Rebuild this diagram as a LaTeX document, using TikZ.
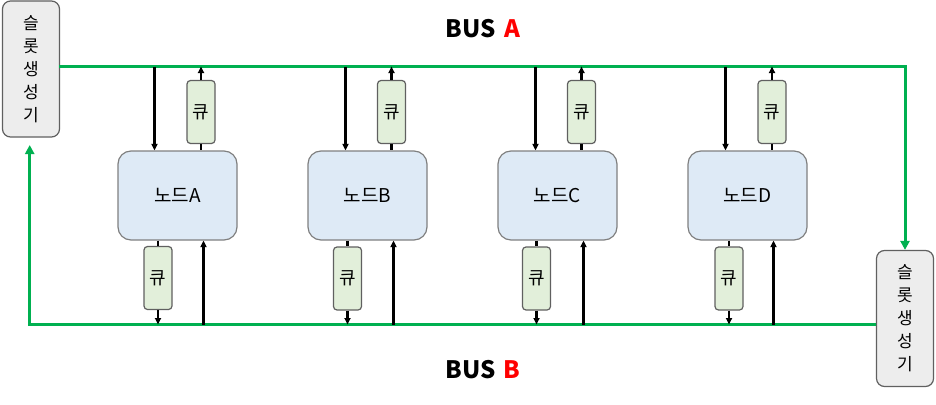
\documentclass[tikz,border=0pt]{standalone}
\usepackage{fontspec}
\setmainfont{Noto Sans CJK KR}
\usetikzlibrary{arrows.meta}

\definecolor{busgreen}{RGB}{0,176,80}
\definecolor{nodefill}{RGB}{222,234,246}
\definecolor{queuefill}{RGB}{226,239,218}
\definecolor{genfill}{RGB}{237,237,237}
\definecolor{edgegray}{RGB}{96,96,96}

\tikzset{
  slotgen/.style={draw=edgegray, fill=genfill, line width=1.2pt, rounded corners=8pt,
    minimum width=57pt, minimum height=136pt, align=center, inner sep=0pt,
    font=\fontsize{17}{23}\selectfont},
  nodebox/.style={draw=edgegray!80, fill=nodefill, line width=1.2pt, rounded corners=13pt,
    minimum width=119pt, minimum height=89pt, inner sep=0pt, font=\fontsize{19}{19}\selectfont},
  queue/.style={draw=edgegray, fill=queuefill, line width=1.2pt, rounded corners=3.5pt,
    minimum width=28pt, minimum height=63pt, inner sep=0pt, font=\fontsize{18}{18}\selectfont},
  bus/.style={draw=busgreen, line width=3pt, -{Triangle[length=9pt,width=9pt]}},
  link/.style={line width=2.2pt, -{Triangle[length=6.5pt,width=6pt]}},
  buslabel/.style={font=\fontsize{24}{24}\selectfont\bfseries}
}

\begin{document}
\begin{tikzpicture}[x=1pt,y=-1pt]
\useasboundingbox (0,0) rectangle (936,404);

\node[slotgen] (gen1) at (31,69) {슬\\롯\\생\\성\\기};
\node[slotgen] (gen2) at (905,318.5) {슬\\롯\\생\\성\\기};

\node[buslabel] (labelA) at (483,29) {BUS\hspace{3pt} \textcolor{red}{A}};
\node[buslabel] (labelB) at (483,370) {BUS\hspace{3pt} \textcolor{red}{B}};

\coordinate (busA) at (59,66.5);
\coordinate (busB) at (876,324.5);
\coordinate (genin) at (29.7,145);

\draw[bus] (busA) -| (gen2.north);
\draw[bus] (busB) -| (genin);

\node[nodebox] (nA) at (177.5,195.5) {노드A};
\node[nodebox] (nB) at (367.5,195.5) {노드B};
\node[nodebox] (nC) at (557.5,195.5) {노드C};
\node[nodebox] (nD) at (747.5,195.5) {노드D};

\node[queue] (qA1) at (201,112) {큐};
\node[queue] (qA2) at (158,278) {큐};
\node[queue] (qB1) at (391.5,112) {큐};
\node[queue] (qB2) at (347.5,278.5) {큐};
\node[queue] (qC1) at (581.5,112) {큐};
\node[queue] (qC2) at (536.5,278.5) {큐};
\node[queue] (qD1) at (772,112) {큐};
\node[queue] (qD2) at (729,278.5) {큐};

\coordinate (inA) at (154.5,66.5);
\coordinate (inB) at (345.5,66.5);
\coordinate (inC) at (535.5,66.5);
\coordinate (inD) at (725.5,66.5);
\coordinate (upA) at (203.5,324.5);
\coordinate (upB) at (393.5,324.5);
\coordinate (upC) at (583.5,324.5);
\coordinate (upD) at (773.5,324.5);

\draw[link] (inA) -- (inA |- nA.north);
\draw[link] (qA1.north) -- (qA1.north |- busA);
\draw[line width=2.2pt] (qA1.south) -- (qA1.south |- nA.north);
\draw[line width=2.2pt] (qA2.north |- nA.south) -- (qA2.north);
\draw[link] (qA2.south) -- (qA2.south |- busB);
\draw[link] (upA) -- (upA |- nA.south);

\draw[link] (inB) -- (inB |- nB.north);
\draw[link] (qB1.north) -- (qB1.north |- busA);
\draw[line width=2.2pt] (qB1.south) -- (qB1.south |- nB.north);
\draw[line width=2.2pt] (qB2.north |- nB.south) -- (qB2.north);
\draw[link] (qB2.south) -- (qB2.south |- busB);
\draw[link] (upB) -- (upB |- nB.south);

\draw[link] (inC) -- (inC |- nC.north);
\draw[link] (qC1.north) -- (qC1.north |- busA);
\draw[line width=2.2pt] (qC1.south) -- (qC1.south |- nC.north);
\draw[line width=2.2pt] (qC2.north |- nC.south) -- (qC2.north);
\draw[link] (qC2.south) -- (qC2.south |- busB);
\draw[link] (upC) -- (upC |- nC.south);

\draw[link] (inD) -- (inD |- nD.north);
\draw[link] (qD1.north) -- (qD1.north |- busA);
\draw[line width=2.2pt] (qD1.south) -- (qD1.south |- nD.north);
\draw[line width=2.2pt] (qD2.north |- nD.south) -- (qD2.north);
\draw[link] (qD2.south) -- (qD2.south |- busB);
\draw[link] (upD) -- (upD |- nD.south);
\end{tikzpicture}
\end{document}
